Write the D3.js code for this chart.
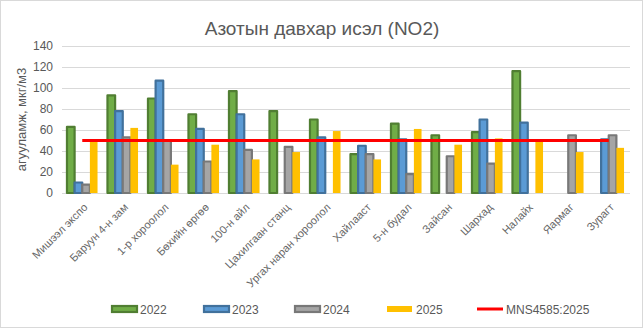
<!DOCTYPE html>
<html>
<head>
<meta charset="utf-8">
<script src="https://cdn.jsdelivr.net/npm/d3@7"></script>
<style>
  html, body { margin: 0; padding: 0; background: #fff; }
  svg { display: block; }
</style>
</head>
<body>
<svg id="chart" width="644" height="329"></svg>
<script>
const categories = ["Мишээл экспо", "Баруун 4-н зам", "1-р хороолол", "Бөхийн өргөө", "100-н айл",
  "Цахилгаан станц", "Ургах наран хороолол", "Хайлааст", "5-н будал", "Зайсан",
  "Шархад", "Налайх", "Яармаг", "Зурагт"];
const seriesNames = ["2022", "2023", "2024", "2025"];
const v2022 = [63, 93, 90, 75, 97, 78, 70, 37, 66, 55, 58, 116, null, null];
const v2023 = [10, 78, 107, 61, 75, null, 53, 45, 51, null, 70, 67, null, 51];
const v2024 = [8, 53, 50, 30, 41, 44, null, 37, 18, 35, 28, null, 55, 55];
const v2025 = [49, 62, 27, 46, 32, 39, 59, 32, 61, 46, 52, 50, 39, 43];
const standardName = "MNS4585:2025";
const standardValues = [50, 50, 50, 50, 50, 50, 50, 50, 50, 50, 50, 50, 50, 50];
const yTicks = [0, 20, 40, 60, 80, 100, 120, 140];
const titleText = "Азотын давхар исэл (NO2)";
const yTitle = "агууламж, мкг/м3";

const seriesValues = [v2022, v2023, v2024, v2025];
const fills = ["#70AD47", "#5B9BD5", "#A5A5A5", "#FFC000"];
const strokes = ["#507E32", "#41719C", "#787878", null];

const svg = d3.select("#chart");
const W = 644, H = 329;
const plot = { left: 62, right: 629, top: 46, bottom: 193 };
const font = "'Liberation Sans', Arial, sans-serif";
const textColor = "#595959";

// border
svg.append("rect").attr("x", 0.5).attr("y", 0.5).attr("width", W - 2).attr("height", H - 2)
  .attr("fill", "#fff").attr("stroke", "#D9D9D9").attr("stroke-width", 1);

// title
svg.append("text").attr("x", 322).attr("y", 35).attr("text-anchor", "middle")
  .attr("font-family", font).attr("font-size", 19).attr("fill", textColor).text(titleText);

const y = d3.scaleLinear().domain([0, 140]).range([plot.bottom, plot.top]);
const x0 = d3.scaleBand().domain(categories).range([plot.left, plot.right]).padding(0);
const gapRatio = 1.3;
const bw = x0.bandwidth() / (seriesNames.length + gapRatio);
const groupOffset = (x0.bandwidth() - bw * seriesNames.length) / 2;
const x1 = d3.scaleBand().domain(seriesNames).range([groupOffset, groupOffset + bw * seriesNames.length]).padding(0);

// gridlines
svg.append("g").selectAll("line").data(yTicks).join("line")
  .attr("x1", plot.left).attr("x2", plot.right + 1)
  .attr("y1", d => Math.round(y(d)) + 0.5).attr("y2", d => Math.round(y(d)) + 0.5)
  .attr("stroke", "#D9D9D9").attr("stroke-width", 1);

// y axis
const yAxis = svg.append("g").attr("transform", `translate(${plot.left - 9},0)`)
  .call(d3.axisLeft(y).tickValues(yTicks).tickSize(0).tickPadding(0));
yAxis.select(".domain").remove();
yAxis.selectAll("text").attr("font-family", font).attr("font-size", 12).attr("fill", textColor);

// y title
svg.append("text").attr("transform", `translate(26, ${(plot.top + plot.bottom) / 2}) rotate(-90)`)
  .attr("text-anchor", "middle").attr("font-family", font).attr("font-size", 13)
  .attr("fill", textColor).text(yTitle);

// bars
seriesNames.forEach((s, si) => {
  const data = categories.map((c, i) => ({ c, v: seriesValues[si][i] })).filter(d => d.v != null);
  svg.append("g").selectAll("rect").data(data).join("rect")
    .attr("x", d => x0(d.c) + x1(s))
    .attr("y", d => y(d.v))
    .attr("width", x1.bandwidth())
    .attr("height", d => y(0) - y(d.v))
    .attr("fill", fills[si])
    .attr("stroke", strokes[si] || "none")
    .attr("stroke-width", strokes[si] ? 2.2 : 0)
    .attr("stroke-linejoin", "round");
});

// standard line
const line = d3.line().x((d, i) => x0(categories[i]) + x0.bandwidth() / 2).y(d => y(d));
svg.append("path").datum(standardValues).attr("d", line)
  .attr("fill", "none").attr("stroke", "#FF0000").attr("stroke-width", 3);

// x labels
const xAxis = svg.append("g").attr("transform", `translate(0, ${plot.bottom})`)
  .call(d3.axisBottom(x0).tickSize(0).tickPadding(0));
xAxis.select(".domain").remove();
xAxis.selectAll("text")
  .attr("font-family", font).attr("font-size", 11).attr("fill", "#666666")
  .attr("text-anchor", "end").attr("dy", null).attr("y", 0)
  .attr("transform", "translate(6, 15) rotate(-45)");

// legend
const legendY = 309;
const legendItems = [
  { name: "2022", x: 111, type: "bar", si: 0 },
  { name: "2023", x: 203, type: "bar", si: 1 },
  { name: "2024", x: 294, type: "bar", si: 2 },
  { name: "2025", x: 387, type: "bar", si: 3 },
  { name: standardName, x: 477, type: "line" }
];
const lg = svg.append("g");
legendItems.forEach(it => {
  if (it.type === "bar") {
    const hasStroke = !!strokes[it.si];
    lg.append("rect").attr("x", it.x + (hasStroke ? 1 : 0)).attr("y", legendY - 3)
      .attr("width", 25).attr("height", 6)
      .attr("fill", fills[it.si]).attr("stroke", strokes[it.si] || "none")
      .attr("stroke-width", hasStroke ? 2.2 : 0);
  } else {
    lg.append("line").attr("x1", it.x).attr("x2", it.x + 26).attr("y1", legendY).attr("y2", legendY)
      .attr("stroke", "#FF0000").attr("stroke-width", 3);
  }
  lg.append("text").attr("x", it.x + 29).attr("y", legendY + 4.5)
    .attr("font-family", font).attr("font-size", 12).attr("fill", textColor).text(it.name);
});
</script>
</body>
</html>
